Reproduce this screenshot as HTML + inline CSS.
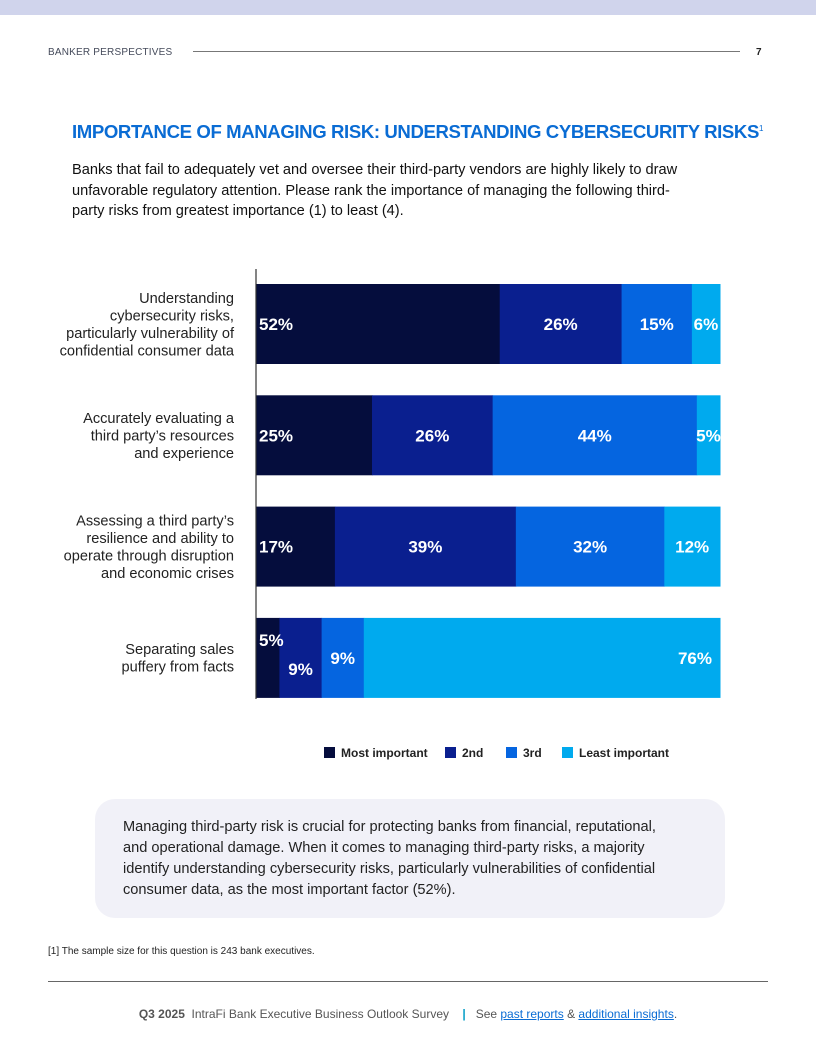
<!DOCTYPE html>
<html><head><meta charset="utf-8">
<style>
body{margin:0;width:816px;height:1056px;position:relative;background:#fff;font-family:"Liberation Sans",sans-serif;overflow:hidden}
.abs{position:absolute}
</style></head><body>
<div class="abs" style="left:0;top:0;width:816px;height:15px;background:#d0d4ec"></div>
<div class="abs" style="left:48px;top:47px;font-size:10px;color:#444a5a;letter-spacing:0.2px">BANKER PERSPECTIVES</div>
<div class="abs" style="left:193px;top:51px;width:547px;height:1px;background:#777"></div>
<div class="abs" style="left:756px;top:47px;font-size:10px;font-weight:bold;color:#222">7</div>
<div class="abs" style="left:72px;top:121px;font-size:18.6px;font-weight:bold;color:#0a6cd4;letter-spacing:-0.4px;white-space:nowrap">IMPORTANCE OF MANAGING RISK: UNDERSTANDING CYBERSECURITY RISKS<sup style="font-size:8px;font-weight:normal">1</sup></div>
<div class="abs" style="left:72px;top:160px;font-size:14.6px;line-height:20.5px;color:#111;white-space:nowrap">Banks that fail to adequately vet and oversee their third-party vendors are highly likely to draw<br>unfavorable regulatory attention. Please rank the importance of managing the following third-<br>party risks from greatest importance (1) to least (4).</div>

<svg class="abs" style="left:0;top:0" width="816" height="800" id="chart"></svg>

<div class="abs" style="left:95px;top:799px;width:630px;height:119px;border-radius:20px;background:#f1f1f8"></div>
<div class="abs" style="left:123px;top:817px;font-size:14.6px;line-height:21px;color:#222;white-space:nowrap">Managing third-party risk is crucial for protecting banks from financial, reputational,<br>and operational damage. When it comes to managing third-party risks, a majority<br>identify understanding cybersecurity risks, particularly vulnerabilities of confidential<br>consumer data, as the most important factor (52%).</div>
<div class="abs" style="left:48px;top:946px;font-size:10px;color:#222">[1] The sample size for this question is 243 bank executives.</div>
<div class="abs" style="left:48px;top:981px;width:720px;height:1px;background:#666"></div>
<div class="abs" style="left:0;width:816px;top:1007px;text-align:center;font-size:12px;color:#555"><b style="color:#555">Q3 2025</b>&nbsp; IntraFi Bank Executive Business Outlook Survey &nbsp;&nbsp; <span style="color:#0aa0c8;font-weight:bold">|</span> &nbsp; See <a style="color:#0a6cd4;text-decoration:underline">past reports</a> &amp; <a style="color:#0a6cd4;text-decoration:underline">additional insights</a>.</div>

<script>
const categories=[["Understanding","cybersecurity risks,","particularly vulnerability of","confidential consumer data"],["Accurately evaluating a","third party’s resources","and experience"],["Assessing a third party’s","resilience and ability to","operate through disruption","and economic crises"],["Separating sales","puffery from facts"]];
const seriesNames=["Most important","2nd","3rd","Least important"];
const mostImportant=[52,25,17,5];
const second=[26,26,39,9];
const third=[15,44,32,9];
const leastImportant=[6,5,12,76];
const colors=["#050d3d","#0a1f8f","#0565e0","#00aaee"];
const svg=document.getElementById('chart');
const NS="http://www.w3.org/2000/svg";
const x0=256,x1=720,rowTop=284,rowStep=111.3,barH=80;
function yPos(i){return rowTop+i*rowStep;}
function mk(t,a){const e=document.createElementNS(NS,t);for(const k in a)e.setAttribute(k,a[k]);svg.appendChild(e);return e;}
const series=[mostImportant,second,third,leastImportant];
const labels=[];
categories.forEach((lines,i)=>{
  const vals=series.map(s=>s[i]);const tot=vals.reduce((a,b)=>a+b,0);
  const xs=v=>v/tot*(x1-x0);
  let cx=x0;const y=yPos(i);
  const firstNarrow=xs(vals[0])<30;
  vals.forEach((v,j)=>{
    const w=xs(v);
    const r=mk('rect',{x:cx,y:y,width:w+0.5,height:barH,fill:colors[j]});
    
    
    let tx,anchor,dy=6;
    if(j===0){tx=cx+3;anchor='start';if(firstNarrow)dy=-12;}
    else if(v>60){tx=cx+w-8;anchor='end';}
    else{tx=cx+w/2;anchor='middle';if(j===1&&firstNarrow)dy=17;}
    labels.push([tx,y+barH/2+dy,anchor,v]);
    cx+=w;
  });
  const n=lines.length;const cy=y+barH/2-(n-1)*17.5/2+5;
  lines.forEach((ln,k)=>{
    const t=mk('text',{x:234,y:cy+k*17.5,'text-anchor':'end',fill:'#222','font-size':14.6,'font-family':'Liberation Sans, sans-serif'});
    t.textContent=ln;
    
    
  });
});
labels.forEach(([tx,ty,anchor,v])=>{
  const t=mk('text',{x:tx,y:ty,'text-anchor':anchor,fill:'#fff','font-size':17,'font-weight':'bold','font-family':'Liberation Sans, sans-serif'});
  t.textContent=v+'%';
  
  
});
const ax=mk('line',{x1:x0,x2:x0,y1:269,y2:699,stroke:'#333','stroke-width':1.2});


const legX=[324,445,506,562];
seriesNames.forEach((n,j)=>{
  const r=mk('rect',{x:legX[j],y:747,width:11,height:11,fill:colors[j]});
  
  
  const t=mk('text',{x:legX[j]+17,y:757,fill:'#222','font-size':12,'font-weight':'bold','font-family':'Liberation Sans, sans-serif'});
  t.textContent=n;
  
  
});
</script>
</body></html>
